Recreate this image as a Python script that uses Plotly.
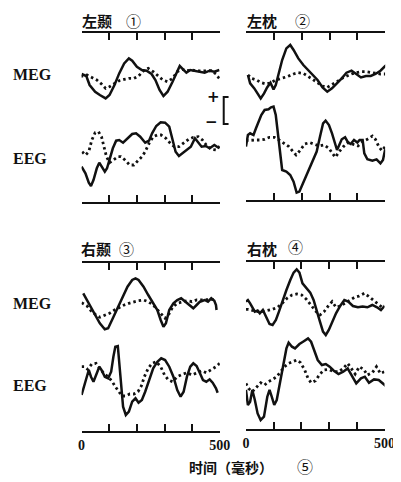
import plotly.graph_objects as go

# ---------------- data (time in ms, amplitude in arbitrary units) ----------------
# Panel 1: 左颞
p1_meg_solid_t = [0, 17, 29, 49, 66, 87, 101, 119, 136, 154, 171, 183, 200, 218, 235, 253, 267, 282, 296, 311, 329, 344, 355, 367, 379, 393, 410, 428, 445, 463, 480, 498]
p1_meg_solid_v = [2.7, 0.7, -8.3, -15, -18.3, -21.7, -18.3, -8.3, 3.3, 13.3, 18.3, 16, 10, 6.7, 6, 2.7, -3.3, -13.3, -19.3, -15, -5, 5, 10.7, 7.3, 4, 6.7, 6, 5, 4, 6, 5, 6.7]
p1_meg_dot_t = [-17, 2, 20, 37, 55, 72, 87, 101, 119, 136, 154, 171, 189, 206, 224, 241, 259, 276, 294, 311, 329, 346, 364, 381, 399, 416, 434, 451, 469, 486, 500]
p1_meg_dot_v = [-4, 0.7, 1.7, -0.7, -3.3, -7.3, -11.7, -10, -6.7, -4, -2.7, -1.7, -1.7, 0.7, 6, 8.3, 5, 0.7, -3.3, -5, -1.7, 5, 7.3, 6, 6.7, 5.7, 6, 5.7, 6, 2.7, -2.7]
p1_eeg_solid_t = [0, 14, 26, 34, 43, 55, 64, 73, 84, 92, 101, 113, 125, 136, 150, 166, 183, 197, 212, 230, 244, 255, 270, 286, 302, 317, 329, 340, 352, 367, 381, 395, 410, 422, 434, 449, 463, 480, 498]
p1_eeg_solid_v = [-16.7, -23.3, -32.7, -36, -30, -18.3, -12.7, -16.7, -21.7, -18.3, -10, 1.7, 9.3, 10, 7.3, 11.7, 16, 16.7, 13.3, 7.3, 9.3, 16.7, 24, 27.7, 27.3, 23.3, 10, -1.7, -6, -2.7, 0.7, 3.3, 11.7, 7.3, 3.3, 4, 1.7, 5, 1.7]
p1_eeg_dot_t = [2, 14, 26, 37, 49, 61, 72, 80, 90, 101, 115, 131, 142, 157, 174, 189, 204, 218, 230, 244, 259, 274, 288, 305, 321, 335, 352, 370, 387, 404, 422, 437, 451, 469, 486, 500]
p1_eeg_dot_v = [-1.7, -5, -1.7, 10, 17.3, 18.3, 13.3, 3.3, -6.7, -12.7, -10, -6.7, -6.7, -10, -15, -15, -10.7, -6.7, -1.7, 6.7, 13.3, 15, 15, 11.7, 6.7, 3.3, 3.3, 6.7, 10.7, 12.7, 13.3, 10, 5, 0.7, 0, 4]

# Panel 2: 左枕
p2_meg_solid_t = [7, 15, 30, 44, 53, 65, 76, 88, 99, 107, 119, 130, 145, 159, 171, 188, 206, 223, 240, 257, 275, 292, 309, 327, 344, 361, 379, 396, 413, 431, 448, 465, 483, 500, 512]
p2_meg_solid_v = [1.7, -6.7, -11.7, -17.3, -21.7, -16.7, -10.7, -6, -12.7, -8.3, 5, 16.7, 28.3, 31.7, 26.7, 18.3, 11.7, 6.7, 1.7, -3.3, -10.7, -15, -11.7, -6.7, -1.7, 4, 6, 2.7, -0.7, 0.7, 0.7, 2.7, 6, 10.7, 13]
p2_meg_dot_t = [7, 21, 38, 55, 73, 90, 107, 127, 148, 171, 188, 206, 223, 240, 257, 275, 292, 309, 327, 344, 361, 379, 396, 413, 431, 448, 465, 483, 500]
p2_meg_dot_v = [1.7, -1.7, -3.3, -6, -7.3, -6, -3.3, -1.7, 0, 2.7, 4, 3.3, 0.7, -2.7, -6, -9.3, -10.7, -8.3, -5, -1.7, 0.7, 2.7, 4, 5, 5, 4, 3.3, 2.7, 2.7]
p2_eeg_solid_t = [0, 7, 15, 27, 36, 46, 55, 67, 81, 90, 99, 107, 115, 122, 130, 145, 159, 171, 182, 192, 200, 211, 223, 240, 254, 266, 277, 286, 298, 309, 319, 327, 335, 344, 356, 367, 376, 388, 400, 408, 419, 425, 436, 454, 469, 483, 492, 500]
p2_eeg_solid_v = [-3.3, 8.3, 10, 8.3, 15, 21.7, 28.3, 33.3, 34, 36, 36.7, 28.3, 10, -10, -26.7, -28.3, -31.7, -38.3, -49.3, -48.3, -43.3, -36.7, -28.3, -18.3, -8.3, 6.7, 20, 22.7, 18.3, 10, 0, -6.7, -1.7, 4, 6, 0.7, -0.7, 3.3, 0.7, 3.3, 3.3, -10, -16, -17.3, -16, -20, -16.7, -6]
p2_eeg_dot_t = [0, 15, 32, 50, 67, 84, 102, 119, 136, 154, 169, 180, 194, 211, 229, 246, 263, 281, 298, 312, 321, 335, 350, 367, 385, 402, 419, 436, 454, 465, 477, 488, 500]
p2_eeg_dot_v = [2.7, 3.3, 3.3, 3.3, 4, 6, 6, 3.3, 0, -3.3, -8.3, -11.7, -7.3, -0.7, 0.7, -0.7, -2.7, -1.7, -5, -10.7, -14, -8.3, -3.3, 0.7, -0.7, -2.7, 1.7, 4, 7.3, 4, -3.3, -7.3, -3.3]

# Panel 3: 右颞
p3_meg_solid_t = [6, 20, 34, 49, 66, 84, 96, 113, 131, 148, 166, 183, 195, 206, 224, 241, 259, 274, 286, 296, 305, 317, 332, 346, 360, 375, 393, 404, 416, 428, 445, 457, 469, 480, 486, 488]
p3_meg_solid_v = [11.7, 5, -2.3, -10, -18.3, -24.3, -23.3, -13.3, -2.3, 8.3, 18.3, 25, 26.7, 25, 18.3, 10, 2.3, -5, -15, -21.7, -18.3, -5, 1.7, 5, 6.7, 3.3, -1.7, -3.3, 0, 3.3, 5, 3.3, 6.7, 4.3, 0, -5]
p3_meg_dot_t = [-17, 2, 20, 34, 52, 66, 84, 101, 119, 136, 154, 171, 189, 206, 224, 241, 259, 276, 290, 302, 314, 329, 346, 364, 381, 399, 416, 434, 451, 469, 486]
p3_meg_dot_v = [5, 1.7, -1, -5.7, -10, -12.3, -10, -8.3, -5, -2.3, 0, 1.7, 3.3, 4.3, 5, 3.3, 0, -5, -10, -13.3, -10, -2.3, 1.7, 3.3, 4.3, 3.3, 5, 5, 5.7, 5.7, 5]
p3_eeg_solid_t = [0, 8, 17, 26, 34, 43, 55, 64, 72, 84, 96, 107, 115, 122, 131, 136, 142, 150, 160, 171, 183, 195, 206, 218, 230, 244, 259, 274, 288, 302, 317, 332, 346, 358, 369, 381, 393, 404, 416, 428, 439, 451, 463, 474, 486, 492]
p3_eeg_solid_v = [-15, -6.7, 3.3, 10, 3.3, -1.7, 6.7, 13.3, 10, 3.3, 1.7, 8.3, 23.3, 33.3, 34, 20, -3.3, -26.7, -35, -31.7, -21.7, -18.3, -22.7, -20, -11.7, 0, 11.7, 18.3, 21.7, 20, 13.3, 3.3, -10, -16.7, -11.7, 3.3, 13.3, 16.7, 14, 6.7, 0, -1.7, 0.7, -2.7, -8.3, -12.7]
p3_eeg_dot_t = [0, 10, 22, 37, 52, 66, 80, 96, 111, 122, 134, 146, 160, 174, 189, 204, 216, 227, 241, 255, 270, 286, 300, 314, 329, 346, 364, 381, 399, 416, 434, 451, 469, 486, 500]
p3_eeg_dot_v = [13.3, 13.3, 10.7, 16, 16.7, 11.7, 6.7, 3.3, -1.7, -6.7, -11.7, -16, -16, -14, -14, -11.7, -6, 3.3, 11.7, 16.7, 18.3, 13.3, 5, 0, -1.7, 3.3, 5.7, 7.3, 5, 7.3, 9.3, 7.3, 10, 13.3, 16.7]

# Panel 4: 右枕
p4_meg_solid_t = [0, 7, 15, 23, 32, 42, 50, 61, 73, 85, 96, 108, 119, 131, 146, 160, 172, 183, 193, 204, 218, 232, 244, 255, 267, 278, 288, 299, 311, 325, 340, 355, 369, 386, 404, 421, 438, 456, 473, 487, 500]
p4_meg_solid_v = [6.7, 8.3, 5, 1, -3.3, -2.3, -5, -1.7, -8.3, -15.7, -16.7, -11.7, -3.3, 6.7, 18.3, 28.3, 35.7, 39, 35.7, 25, 20, 15.7, 8.3, -3.3, -13.3, -23.3, -26.7, -21.7, -13.3, -5, 2.3, 8.3, 6.7, 2.3, 1, 1.7, 1, 3.3, 1, -1.7, 2.3]
p4_meg_dot_t = [0, 9, 27, 44, 61, 79, 96, 114, 131, 148, 166, 183, 201, 218, 235, 253, 267, 282, 297, 311, 325, 340, 357, 375, 392, 409, 427, 441, 456, 473, 491, 500]
p4_meg_dot_v = [-1, -1, -2.3, -3.3, -3.3, -2.3, -1, 1, 5, 10, 13.3, 14.3, 13.3, 9, 3.3, -3.3, -6.7, -3.3, 2.3, 6.7, 1, 2.3, 5, 8.3, 11, 12.3, 15, 12.3, 9, 5, 1, 2.3]
p4_eeg_solid_t = [0, 7, 15, 23, 32, 42, 53, 65, 77, 85, 93, 102, 111, 123, 135, 146, 154, 166, 177, 193, 206, 224, 235, 247, 259, 274, 288, 302, 317, 334, 351, 367, 380, 398, 415, 429, 444, 462, 479, 494, 508]
p4_eeg_solid_v = [-13.3, -28.3, -25, -13.3, -23.3, -36.7, -43.3, -40, -20, -13.3, -20, -28.3, -23.3, -6.7, 13.3, 28.3, 34, 30, 28.3, 32.7, 35, 38.3, 35, 26.7, 16.7, 11.7, 12.7, 10, 6, 2.7, 5, 8.3, 1.7, -6.7, -1.7, 0, -6, -2.7, -3.3, -6.7, -10]
p4_eeg_dot_t = [0, 9, 23, 38, 53, 67, 81, 96, 111, 125, 139, 154, 169, 183, 197, 212, 224, 235, 251, 267, 282, 299, 317, 334, 351, 367, 380, 394, 409, 425, 438, 456, 471, 485, 499]
p4_eeg_dot_v = [-6.7, -11.7, -15, -10, -6, -8.3, -5, -2.7, 0, 5, 10, 13.3, 15, 16.7, 14, 6.7, -1.7, -6, -4, 2.7, 6.7, 7.3, 5, 5, 8.3, 13.3, 8.3, 2.7, 10, 7.3, 1.7, 4, 10, 3.3, 5]

panel_names = ["左颞", "左枕", "右颞", "右枕"]
panel_marks = ["①", "②", "③", "④"]
row_labels = ["MEG", "EEG"]
tick_values = [0, 100, 200, 300, 400, 500]
tick_labels = ["0", "", "", "", "", "500"]
x_title = "时间（毫秒）"
x_title_mark = "⑤"

# ---------------- layout geometry (page pixels) ----------------
OFF = 8                      # page body margin of the browser
W, H = 401 - OFF, 482 - OFF  # figure size so that it fits the window


def PX(x):
    return (x - OFF) / W


def PY(y):
    return 1 - (y - OFF) / H


# (x_left, x_right, y_top, y_bottom, meg_baseline, eeg_baseline)
geom = [
    (81, 224, 33, 202, 76.7, 150.0),
    (251, 395, 33, 200, 76.7, 143.3),
    (81, 224, 262.7, 430.7, 305.0, 380.0),
    (251, 394.3, 261.7, 429.3, 308.3, 376.7),
]
data = [
    (p1_meg_solid_t, p1_meg_solid_v, p1_meg_dot_t, p1_meg_dot_v, p1_eeg_solid_t, p1_eeg_solid_v, p1_eeg_dot_t, p1_eeg_dot_v),
    (p2_meg_solid_t, p2_meg_solid_v, p2_meg_dot_t, p2_meg_dot_v, p2_eeg_solid_t, p2_eeg_solid_v, p2_eeg_dot_t, p2_eeg_dot_v),
    (p3_meg_solid_t, p3_meg_solid_v, p3_meg_dot_t, p3_meg_dot_v, p3_eeg_solid_t, p3_eeg_solid_v, p3_eeg_dot_t, p3_eeg_dot_v),
    (p4_meg_solid_t, p4_meg_solid_v, p4_meg_dot_t, p4_meg_dot_v, p4_eeg_solid_t, p4_eeg_solid_v, p4_eeg_dot_t, p4_eeg_dot_v),
]

fig = go.Figure()
INK = "#111111"
solid = dict(color=INK, width=2.5)
dotted = dict(color=INK, width=2.8, dash="2.5px,3px")

for i, ((xl, xr, yt, yb, bm, be), d) in enumerate(zip(geom, data)):
    n = "" if i == 0 else str(i + 1)
    xa, ya = "x" + n, "y" + n
    ms_t, ms_v, md_t, md_v, es_t, es_v, ed_t, ed_v = d
    fig.add_trace(go.Scatter(x=ms_t, y=[v - bm for v in ms_v], mode="lines", line=solid, xaxis=xa, yaxis=ya, showlegend=False, hoverinfo="skip"))
    fig.add_trace(go.Scatter(x=md_t, y=[v - bm for v in md_v], mode="lines", line=dotted, xaxis=xa, yaxis=ya, showlegend=False, hoverinfo="skip"))
    fig.add_trace(go.Scatter(x=es_t, y=[v - be for v in es_v], mode="lines", line=solid, xaxis=xa, yaxis=ya, showlegend=False, hoverinfo="skip"))
    fig.add_trace(go.Scatter(x=ed_t, y=[v - be for v in ed_v], mode="lines", line=dotted, xaxis=xa, yaxis=ya, showlegend=False, hoverinfo="skip"))
    bottom_row = i >= 2
    fig.layout["xaxis" + n] = dict(
        domain=[PX(xl), PX(xr)], range=[0, 500], anchor=ya,
        showline=True, linecolor=INK, linewidth=2, mirror="ticks",
        ticks="inside", ticklen=7, tickwidth=2, tickcolor=INK,
        tickvals=tick_values,
        ticktext=["<b>" + t + "</b>" if t else "" for t in tick_labels] if bottom_row else [""] * 6,
        showticklabels=bottom_row, showgrid=False, zeroline=False,
        tickfont=dict(family="Liberation Serif", size=14, color=INK),
    )
    fig.layout["yaxis" + n] = dict(
        domain=[PY(yb), PY(yt)], range=[-yb, -yt], anchor=xa,
        visible=False, showgrid=False, zeroline=False,
    )

annotations = []
cjk = "Noto Sans CJK SC"
title_pos = [(79, 20), (250, 20), (78, 248), (250, 248)]
mark_pos = [(135, 20), (309, 20), (127, 248), (302, 247)]
for (tx, ty), (mx, my), name, mark in zip(title_pos, mark_pos, panel_names, panel_marks):
    annotations.append(dict(x=PX(tx), y=PY(ty), xref="paper", yref="paper", text="<b>" + name + "</b>",
                            showarrow=False, xanchor="left", yanchor="middle",
                            font=dict(family=cjk, size=15, color=INK)))
    annotations.append(dict(x=PX(mx), y=PY(my), xref="paper", yref="paper", text=mark,
                            showarrow=False, xanchor="center", yanchor="middle",
                            font=dict(family=cjk, size=15, color=INK)))
label_pos = [(75, "MEG"), (158, "EEG"), (303, "MEG"), (385, "EEG")]
for ly, t in label_pos:
    annotations.append(dict(x=PX(8), y=PY(ly), xref="paper", yref="paper", text="<b>" + t + "</b>",
                            showarrow=False, xanchor="left", yanchor="middle",
                            font=dict(family="Liberation Serif", size=16, color=INK)))
annotations.append(dict(x=PX(217), y=PY(97), xref="paper", yref="paper", text="<b>+</b>", showarrow=False,
                        xanchor="center", yanchor="middle", font=dict(family="DejaVu Sans", size=15, color=INK)))
annotations.append(dict(x=PX(215), y=PY(122), xref="paper", yref="paper", text="<b>−</b>", showarrow=False,
                        xanchor="center", yanchor="middle", font=dict(family="DejaVu Sans", size=15, color=INK)))
annotations.append(dict(x=PX(236), y=PY(467), xref="paper", yref="paper", text="<b>" + x_title + "</b>", showarrow=False,
                        xanchor="center", yanchor="middle", font=dict(family=cjk, size=14, color=INK)))
annotations.append(dict(x=PX(312), y=PY(466), xref="paper", yref="paper", text=x_title_mark, showarrow=False,
                        xanchor="center", yanchor="middle", font=dict(family=cjk, size=16, color=INK)))

shapes = [dict(type="path", xref="paper", yref="paper",
               path=f"M {PX(233)} {PY(97)} L {PX(228)} {PY(97)} L {PX(228)} {PY(124)} L {PX(233)} {PY(124)}",
               line=dict(color=INK, width=2))]

fig.update_layout(
    width=W, height=H, autosize=False,
    margin=dict(l=0, r=0, t=0, b=0),
    paper_bgcolor="white", plot_bgcolor="rgba(0,0,0,0)",
    annotations=annotations, shapes=shapes, showlegend=False,
)
fig.write_html("out.html")
